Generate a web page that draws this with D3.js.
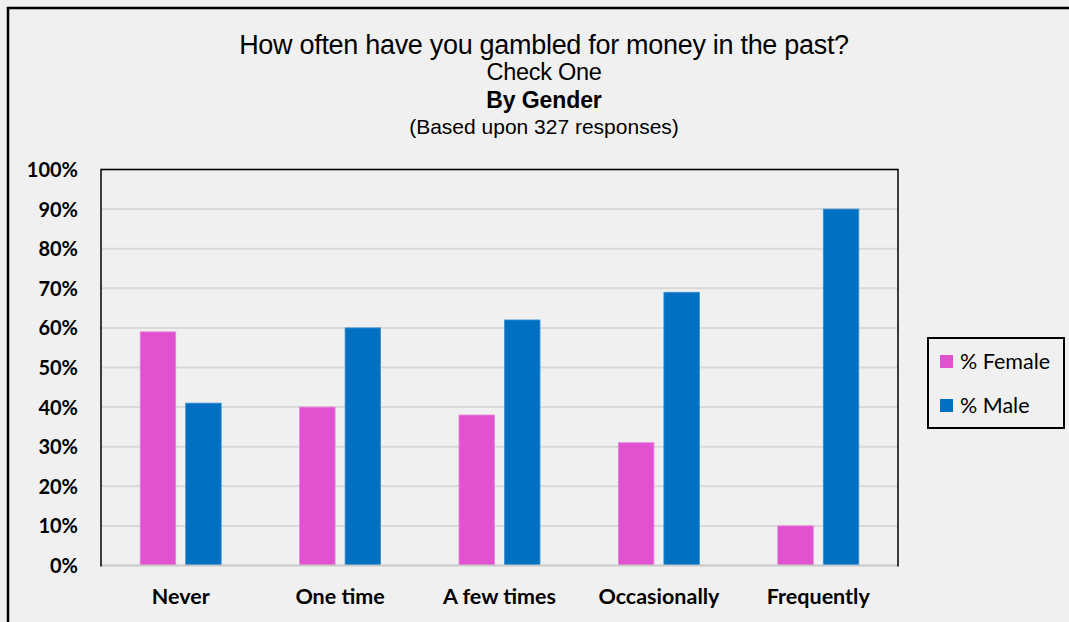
<!DOCTYPE html>
<html>
<head>
<meta charset="utf-8">
<script src="https://cdn.jsdelivr.net/npm/d3@7"></script>
<style>
  body { margin: 0; background: #f0f0f0; }
  svg { display: block; }
</style>
</head>
<body>
<div id="chart"></div>
<script>
// data
var categories = ["Never", "One time", "A few times", "Occasionally", "Frequently"];
var seriesNames = ["% Female", "% Male"];
var female = [59, 40, 38, 31, 10];
var male = [41, 60, 62, 69, 90];
var yTicks = [0, 10, 20, 30, 40, 50, 60, 70, 80, 90, 100];
var colors = ["#e052cf", "#0070c0"];

var W = 1069, H = 622;
var plot = {left: 101, right: 898, top: 169.5, bottom: 565.5};

var svg = d3.select("#chart").append("svg")
  .attr("width", W).attr("height", H);

svg.append("rect").attr("width", W).attr("height", H).attr("fill", "#f0f0f0");

// outer frame (only left + top edges show)
svg.append("path")
  .attr("d", "M8,622 L8,8 L1069,8")
  .attr("fill", "none").attr("stroke", "#000").attr("stroke-width", 2.5);

// titles
var titles = [
  {t: "How often have you gambled for money in the past?", y: 54, size: 27, w: "normal", ls: -0.3},
  {t: "Check One", y: 80, size: 23.5, w: "normal", ls: -0.3},
  {t: "By Gender", y: 108, size: 23, w: "bold", ls: -0.1},
  {t: "(Based upon 327 responses)", y: 133.5, size: 21, w: "normal", ls: 0}
];
svg.selectAll(".title").data(titles).enter().append("text")
  .attr("class", "title")
  .attr("x", 544).attr("y", function(d) { return d.y; })
  .attr("text-anchor", "middle")
  .style("font-family", "'Liberation Sans', Arial, sans-serif")
  .style("font-size", function(d) { return d.size + "px"; })
  .style("font-weight", function(d) { return d.w; })
  .style("letter-spacing", function(d) { return d.ls + "px"; })
  .attr("fill", "#000")
  .text(function(d) { return d.t; });

var x0 = d3.scaleBand().domain(categories).range([plot.left, plot.right]).padding(0);
var x1 = d3.scaleBand().domain(seriesNames).range([-40.5, 40.5]).paddingInner(0.22);
var y = d3.scaleLinear().domain([0, 100]).range([plot.bottom, plot.top]);

// gridlines
svg.append("g").selectAll("line").data(yTicks.slice(1)).enter().append("line")
  .attr("x1", plot.left).attr("x2", plot.right)
  .attr("y1", function(d) { return y(d); }).attr("y2", function(d) { return y(d); })
  .attr("stroke", "#d9d9d9").attr("stroke-width", 2);

// bars
var rows = categories.map(function(c, i) { return {cat: c, vals: [female[i], male[i]]}; });
var groups = svg.append("g").selectAll("g").data(rows).enter().append("g")
  .attr("transform", function(d) { return "translate(" + (x0(d.cat) + x0.bandwidth() / 2) + ",0)"; });
groups.selectAll("rect").data(function(d) {
    return d.vals.map(function(v, j) { return {s: seriesNames[j], v: v, j: j}; });
  }).enter().append("rect")
  .attr("x", function(d) { return x1(d.s); })
  .attr("width", x1.bandwidth())
  .attr("y", function(d) { return y(d.v); })
  .attr("height", function(d) { return y(0) - y(d.v); })
  .attr("fill", function(d) { return colors[d.j]; })
  .attr("stroke", function(d) { return d.j == 0 ? "#ea7fde" : "#3c8fd0"; })
  .attr("stroke-width", 0.8);

// x axis line (grey) and plot border
svg.append("line")
  .attr("x1", plot.left).attr("x2", plot.right)
  .attr("y1", plot.bottom).attr("y2", plot.bottom)
  .attr("stroke", "#c8c8c8").attr("stroke-width", 2);
svg.append("path")
  .attr("d", "M" + plot.left + "," + (plot.bottom + 1) + " L" + plot.left + "," + plot.top +
             " L" + plot.right + "," + plot.top + " L" + plot.right + "," + (plot.bottom + 1))
  .attr("fill", "none").attr("stroke", "#000").attr("stroke-width", 1.5);

// y axis labels
var yAxis = svg.append("g")
  .attr("transform", "translate(" + (plot.left - 23) + ",0)")
  .call(d3.axisLeft(y).tickValues(yTicks).tickSize(0).tickFormat(function(d) { return d + "%"; }));
yAxis.select(".domain").remove();
yAxis.selectAll("text")
  .attr("x", 0).attr("dy", "0.35em")
  .style("font-family", "Lato, 'Open Sans', sans-serif")
  .style("font-size", "20px").style("font-weight", "bold").attr("fill", "#000");

// x axis labels
var xAxis = svg.append("g")
  .attr("transform", "translate(0," + plot.bottom + ")")
  .call(d3.axisBottom(x0).tickSize(0));
xAxis.select(".domain").remove();
xAxis.selectAll("text")
  .attr("y", 31).attr("dy", "0.35em")
  .style("font-family", "Lato, 'Open Sans', sans-serif")
  .style("font-size", "21.5px").style("font-weight", "bold").attr("fill", "#000");

// legend
var legend = svg.append("g");
legend.append("rect")
  .attr("x", 928).attr("y", 338).attr("width", 136).attr("height", 90)
  .attr("fill", "#f0f0f0").attr("stroke", "#000").attr("stroke-width", 2);
var items = legend.selectAll(".item").data(seriesNames).enter().append("g")
  .attr("transform", function(d, i) { return "translate(940," + (355 + i * 44) + ")"; });
items.append("rect").attr("width", 13).attr("height", 13)
  .attr("fill", function(d, i) { return colors[i]; });
items.append("text")
  .attr("x", 20).attr("y", 6.5).attr("dy", "0.35em")
  .style("font-family", "Lato, 'Open Sans', sans-serif")
  .style("font-size", "21.5px").attr("fill", "#000")
  .text(function(d) { return d; });
</script>
</body>
</html>
